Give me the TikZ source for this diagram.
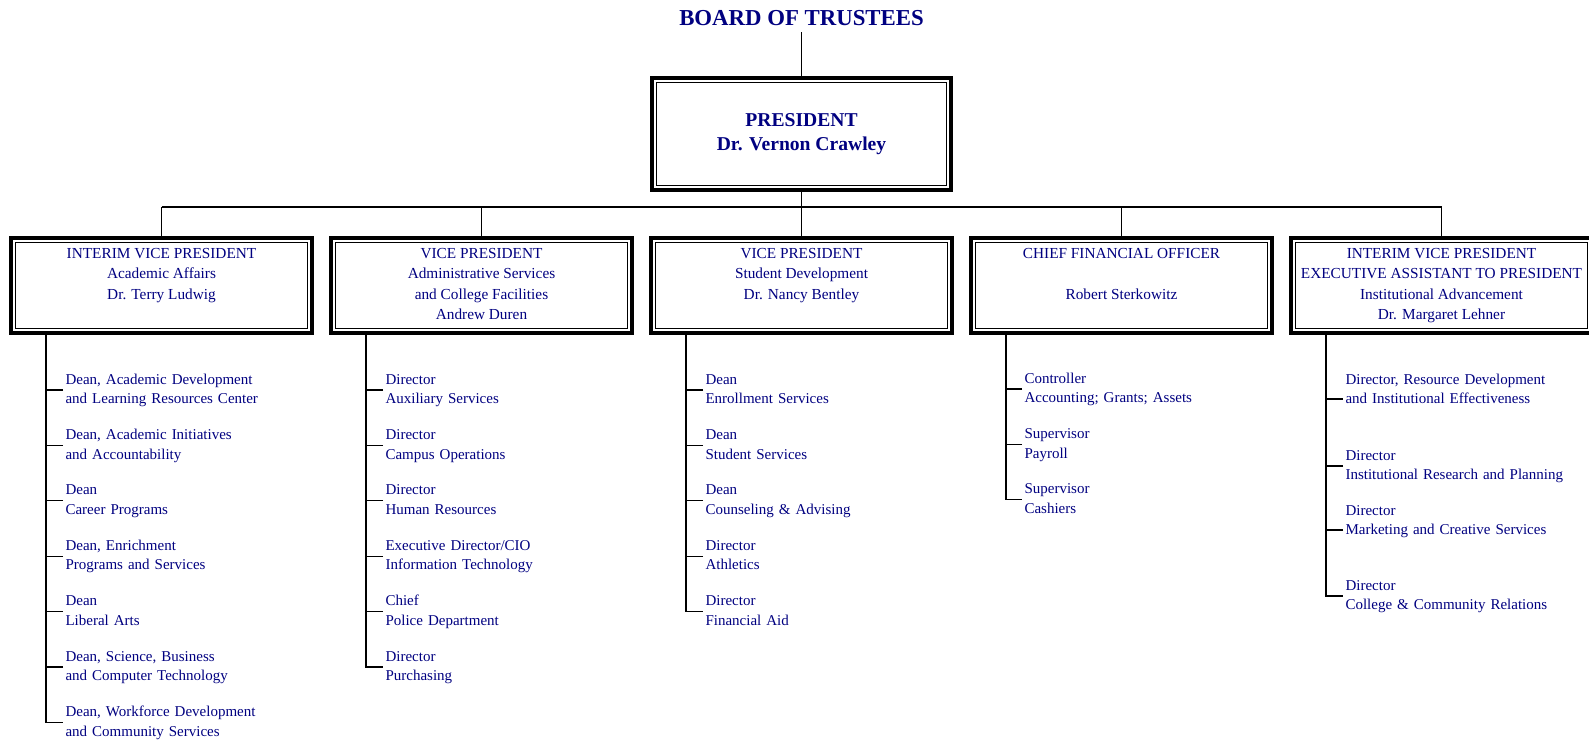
\documentclass[tikz,border=0pt]{standalone}
\usepackage{fontspec}
\setmainfont{Liberation Serif}
\definecolor{navy}{RGB}{0,0,128}

\begin{document}
\begin{tikzpicture}[x=1pt, y=-1pt, node distance=55.4pt, line width=1.1pt,
  every node/.style={text=navy},
  chief box/.style={draw=black, line width=4pt, minimum width=299pt, minimum height=112pt, inner sep=0pt, align=center, font=\bfseries\fontsize{19.6}{24}\selectfont},
  vp box/.style={draw=black, line width=4pt, minimum width=301pt, minimum height=95pt, inner sep=0pt, align=center, font=\fontsize{15.3}{20.3}\selectfont, execute at begin node=\rule{0pt}{20pt}, execute at end node=\vphantom{g}},
  unit node/.style={text width=236pt, inner xsep=2pt, inner ysep=0pt, align=left, font=\fontsize{15}{19.6}\selectfont, execute at begin node=\strut, execute at end node=\strut}]

      \useasboundingbox (0,0) rectangle (1589,739);

      \node[font=\bfseries\fontsize{22.8}{26}\selectfont, inner ysep=6pt] (board) at (801.5,18) {BOARD OF TRUSTEES};
      \node[chief box] (pres) at (801.5,134) {PRESIDENT\\Dr. Vernon Crawley};
      \coordinate (bus) at (801.5,207);

      \node[vp box] (vp1) at (161.5,285.5) {INTERIM VICE PRESIDENT\\Academic Affairs\\Dr. Terry Ludwig\\\mbox{}};
      \node[vp box] (vp2) at (481.5,285.5) {VICE PRESIDENT\\Administrative Services\\and College Facilities\\Andrew Duren};
      \node[vp box] (vp3) at (801.5,285.5) {VICE PRESIDENT\\Student Development\\Dr. Nancy Bentley\\\mbox{}};
      \node[vp box] (vp4) at (1121.5,285.5) {CHIEF FINANCIAL OFFICER\\\mbox{}\\Robert Sterkowitz\\\mbox{}};
      \node[vp box] (vp5) at (1441.5,285.5) {INTERIM VICE PRESIDENT\\EXECUTIVE ASSISTANT TO PRESIDENT\\Institutional Advancement\\Dr. Margaret Lehner};

      % inner frames
      \foreach \b in {pres,vp1,vp2,vp3,vp4,vp5}
        \draw[line width=0.9pt] ([xshift=6.5pt,yshift=-6.5pt]\b.north west) rectangle ([xshift=-6.5pt,yshift=6.5pt]\b.south east);

      \draw (board) -- (pres);
      \draw (pres) -- (bus);
      \draw (vp1.north |- bus) -- (vp5.north |- bus);
      \foreach \i in {1,...,5}
        \draw (vp\i.north |- bus) -- (vp\i.north);

      % academic affairs
      \node[unit node, anchor=west] (a1) at (63,390) {Dean, Academic Development\\and Learning Resources Center};
      \node[unit node] (a2) [below of=a1] {Dean, Academic Initiatives\\and Accountability};
      \node[unit node] (a3) [below of=a2] {Dean\\Career Programs};
      \node[unit node] (a4) [below of=a3] {Dean, Enrichment\\Programs and Services};
      \node[unit node] (a5) [below of=a4] {Dean\\Liberal Arts};
      \node[unit node] (a6) [below of=a5] {Dean, Science, Business\\and Computer Technology};
      \node[unit node] (a7) [below of=a6] {Dean, Workforce Development\\and Community Services};

      % administrative services
      \node[unit node, anchor=west] (b1) at (383,390) {Director\\Auxiliary Services};
      \node[unit node] (b2) [below of=b1] {Director\\Campus Operations};
      \node[unit node] (b3) [below of=b2] {Director\\Human Resources};
      \node[unit node] (b4) [below of=b3] {Executive Director/CIO\\Information Technology};
      \node[unit node] (b5) [below of=b4] {Chief\\Police Department};
      \node[unit node] (b6) [below of=b5] {Director\\Purchasing};

      % student development
      \node[unit node, anchor=west] (c1) at (703,390) {Dean\\Enrollment Services};
      \node[unit node] (c2) [below of=c1] {Dean\\Student Services};
      \node[unit node] (c3) [below of=c2] {Dean\\Counseling \& Advising};
      \node[unit node] (c4) [below of=c3] {Director\\Athletics};
      \node[unit node] (c5) [below of=c4] {Director\\Financial Aid};

      % finance
      \node[unit node, anchor=west] (d1) at (1022,389) {Controller\\Accounting; Grants; Assets};
      \node[unit node] (d2) [below of=d1] {Supervisor\\Payroll};
      \node[unit node] (d3) [below of=d2] {Supervisor\\Cashiers};

      % institutional advancement
      \node[unit node, anchor=west] (e1) at (1343,390) {Director, Resource Development\\and Institutional Effectiveness};
      \node[unit node] (e2) [below of=e1, node distance=76pt] {Director\\Institutional Research and Planning};
      \node[unit node] (e3) [below of=e2, node distance=55pt] {Director\\Marketing and Creative Services};
      \node[unit node] (e4) [below of=e3, node distance=75pt] {Director\\College \& Community Relations};

      \coordinate (ta) at ([xshift=37pt]vp1.south west);
      \coordinate (tb) at ([xshift=37pt]vp2.south west);
      \coordinate (tc) at ([xshift=37pt]vp3.south west);
      \coordinate (td) at ([xshift=37pt]vp4.south west);
      \coordinate (te) at ([xshift=37pt]vp5.south west);
      \coordinate (e1t) at ([yshift=-9pt]e1.west);
      \coordinate (e3t) at ([yshift=-9pt]e3.west);

      \draw (ta) |- (a7.west);
      \foreach \i in {1,...,6} \draw (a\i.west) -- (ta |- a\i.west);
      \draw (tb) |- (b6.west);
      \foreach \i in {1,...,5} \draw (b\i.west) -- (tb |- b\i.west);
      \draw (tc) |- (c5.west);
      \foreach \i in {1,...,4} \draw (c\i.west) -- (tc |- c\i.west);
      \draw (td) |- (d3.west);
      \foreach \i in {1,2} \draw (d\i.west) -- (td |- d\i.west);
      \draw (te) |- (e4.west);
      \draw (e1t) -- (te |- e1t);
      \draw (e2.west) -- (te |- e2.west);
      \draw (e3t) -- (te |- e3t);

\end{tikzpicture}
\end{document}
